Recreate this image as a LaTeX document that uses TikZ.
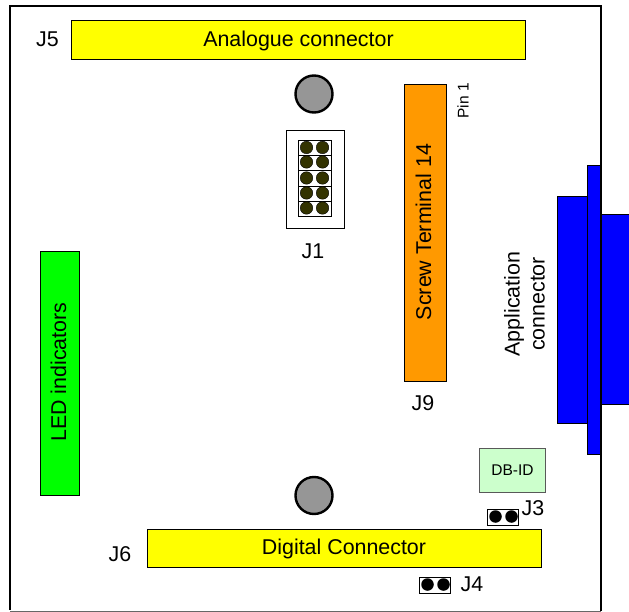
\documentclass[tikz,border=0pt]{standalone}
\usepackage{fontspec}
\setmainfont{Liberation Sans}
\definecolor{conyellow}{HTML}{FFFF00}
\definecolor{conorange}{HTML}{FF9900}
\definecolor{congreen}{HTML}{00FF00}
\definecolor{conblue}{HTML}{0000FF}
\definecolor{idgreen}{HTML}{CCFFCC}
\definecolor{pingrey}{HTML}{969696}
\definecolor{pinolive}{HTML}{333300}
\tikzset{
  board/.style={draw=black, line width=1.8pt, line join=miter},
  part/.style={draw=black, line width=1pt, inner sep=0pt, text=black},
  shell/.style={draw=black, line width=1pt, fill=conblue},
  hole/.style={circle, draw=black, line width=2.4pt, fill=pingrey, inner sep=0pt, minimum size=37pt},
  pin/.style={circle, fill=black, inner sep=0pt, minimum size=12.5pt},
  hpin/.style={circle, draw=black, line width=0.4pt, fill=pinolive, inner sep=0pt, minimum size=12.5pt},
  thin/.style={draw=black, line width=0.7pt},
  lab/.style={text=black, font=\fontsize{21.4}{25}\selectfont, inner sep=0pt},
  labs/.style={text=black, font=\fontsize{15.5}{18}\selectfont, inner sep=0pt},
}
\begin{document}
\begin{tikzpicture}[x=1pt,y=-1pt]
  \useasboundingbox (0,0) rectangle (629,612);

  % application connector
  \draw[shell] (601,215) rectangle (632,404);
  \draw[shell] (557,196.5) rectangle (587,423);
  \draw[shell] (587,165.5) rectangle (601,454);

  % board
  \draw[board] (10,610) -- (10,6) -- (601,6) -- (601,611);
  \draw[draw=black!60, line width=1pt] (10,611) -- (601,611);

  \node[part, fill=conyellow, minimum width=454pt, minimum height=39pt] (J5con) at (298,40.5) {};
  \node[lab] (J5text) at (298.5,41) {Analogue connector};
  \node[lab] (J5) at (47.5,39) {J5};

  \node[part, fill=conyellow, minimum width=394pt, minimum height=38pt] (J6con) at (344,548) {};
  \node[lab] (J6text) at (344,549) {Digital Connector};
  \node[lab] (J6) at (120,554) {J6};

  \node[part, fill=conorange, minimum width=296pt, minimum height=42pt, rotate=90] (J9con) at (425,233) {};
  \node[lab, rotate=90] (J9text) at (423.5,232) {Screw Terminal 14};
  \node[lab] (J9) at (423,403) {J9};
  \node[labs, rotate=90] (pinone) at (463,101) {Pin 1};

  \node[part, fill=congreen, minimum width=244pt, minimum height=38.5pt, rotate=90] (ledcon) at (60,373.5) {};
  \node[lab, rotate=90] (ledtext) at (58.5,372) {LED indicators};

  \node[lab, rotate=90, align=center] (apptext) at (524.5,304) {Application\\connector};

  % mounting holes
  \node[hole] (holetop) at (314,94) {};
  \node[hole] (holebot) at (314,495.5) {};

  % J1 header
  \draw[thin, fill=white] (286,130) rectangle (344,228);
  \draw[thin, fill=white] (298,140) rectangle (331,216);
  \foreach \y in {155.5,170,186,201}
    \draw[thin] (298,\y) -- (331,\y);
  \foreach \y in {147.5,162,178,193,208}{
    \node[hpin] at (306.5,\y) {};
    \node[hpin] at (322.5,\y) {};
  }
  \node[lab] (J1) at (313,251) {J1};

  % DB-ID
  \node[part, draw=black!65, fill=idgreen, minimum width=66pt, minimum height=44pt, labs] (dbid) at (512.5,470.5) {DB-ID};

  % J3 and J4
  \draw[thin, fill=white] (487,509) rectangle (518,525);
  \node[pin] (J3a) at (495.5,516.5) {};
  \node[pin] (J3b) at (511.5,516.5) {};
  \node[lab] (J3) at (533,508) {J3};

  \draw[thin, fill=white] (419,577) rectangle (450,593);
  \node[pin] (J4a) at (427.5,584.5) {};
  \node[pin] (J4b) at (443.5,584.5) {};
  \node[lab] (J4) at (472,584) {J4};
\end{tikzpicture}
\end{document}
